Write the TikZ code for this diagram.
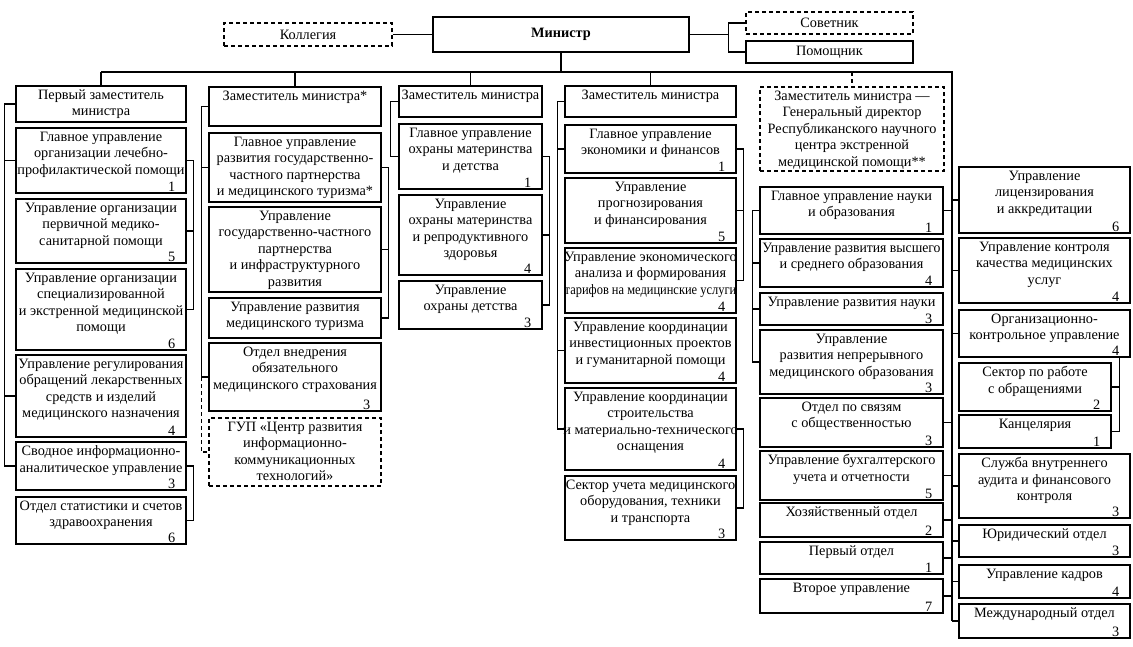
\documentclass[tikz,border=0pt]{standalone}
\usepackage{fontspec}
\setmainfont{Liberation Serif}
\usetikzlibrary{fit}
\tikzset{
  ubox/.style={draw=black, line width=1.1pt, inner sep=0pt, rectangle},
  dbox/.style={ubox, dash pattern=on 4pt off 3pt},
  utext/.style={anchor=north, align=center, inner sep=1pt, yshift=-3pt, font=\fontsize{14.3}{16.5}\selectfont},
  ctext/.style={anchor=center, align=center, inner sep=1pt, font=\fontsize{14.3}{16.5}\selectfont},
  unum/.style={anchor=south east, inner sep=0pt, xshift=-11pt, yshift=2pt, font=\fontsize{14.3}{16.5}\selectfont},
  conn/.style={line width=1.1pt},
  dconn/.style={conn, dash pattern=on 4pt off 3pt},
}
\newcommand\ubx[7][]{%
  \node[ubox,#1,fit={(#3,#4) (#5,#6)}] (#2) {};
  \node[utext] (#2-t) at (#2.north) {#7};}
\newcommand\unm[2]{\node[unum] (#1-n) at (#1.south east) {#2};}
\begin{document}
\begin{tikzpicture}[x=1pt,y=-1pt]
\useasboundingbox[fill=white] (0,0) rectangle (1133,646);
% top
\node[dbox,fit={(224,23) (392,46)}] (kol) {};
\node[ctext] (kol-t) at (kol.center) {Коллегия};
\node[ubox,line width=2pt,fit={(433,17) (689,52)}] (min) {};
\node[ctext] (min-t) at (min.center) {\textbf{Министр}};
\node[dbox,fit={(746,12) (913,34)}] (sov) {};
\node[ctext] (sov-t) at (sov.center) {Советник};
\node[ubox,fit={(746,41) (913,63)}] (pom) {};
\node[ctext] (pom-t) at (pom.center) {Помощник};
% column 1
\ubx{z1}{16}{86}{186}{122}{Первый заместитель\\министра}
\ubx{c1a}{16}{128}{186}{193}{Главное управление\\организации лечебно-\\профилактической помощи}\unm{c1a}{1}
\ubx{c1b}{16}{199}{186}{263}{Управление организации\\первичной медико-\\санитарной помощи}\unm{c1b}{5}
\ubx{c1c}{16}{269}{186}{350}{Управление организации\\специализированной\\и экстренной медицинской\\помощи}\unm{c1c}{6}
\ubx{c1d}{16}{355}{186}{437}{Управление регулирования\\обращений лекарственных\\средств и изделий\\медицинского назначения}\unm{c1d}{4}
\ubx{c1e}{16}{442}{186}{490}{Сводное информационно-\\аналитическое управление}\unm{c1e}{3}
\ubx{c1f}{16}{497}{186}{544}{Отдел статистики и счетов\\здравоохранения}\unm{c1f}{6}
% column 2
\ubx{z2}{209}{87}{381}{126}{Заместитель министра*}
\ubx{c2a}{209}{133}{381}{202}{Главное управление\\развития государственно-\\частного партнерства\\и медицинского туризма*}
\ubx{c2b}{209}{207}{381}{292}{Управление\\государственно-частного\\партнерства\\и инфраструктурного\\развития}
\ubx{c2c}{209}{298}{381}{338}{Управление развития\\медицинского туризма}
\ubx{c2d}{209}{343}{381}{411}{Отдел внедрения\\обязательного\\медицинского страхования}\unm{c2d}{3}
\ubx[dbox]{c2e}{209}{418}{381}{486}{ГУП «Центр развития\\информационно-\\коммуникационных\\технологий»}
% column 3
\ubx{z3}{399}{86}{542}{117}{Заместитель министра}
\ubx{c3a}{399}{124}{542}{189}{Главное управление\\охраны материнства\\и детства}\unm{c3a}{1}
\ubx{c3b}{399}{195}{542}{275}{Управление\\охраны материнства\\и репродуктивного\\здоровья}\unm{c3b}{4}
\ubx{c3c}{399}{281}{542}{329}{Управление\\охраны детства}\unm{c3c}{3}
% column 4
\ubx{z4}{565}{86}{736}{117}{Заместитель министра}
\ubx{c4a}{565}{125}{736}{173}{Главное управление\\экономики и финансов}\unm{c4a}{1}
\ubx{c4b}{565}{178}{736}{243}{Управление\\прогнозирования\\и финансирования}\unm{c4b}{5}
\ubx{c4c}{565}{248}{736}{313}{Управление экономического\\анализа и формирования\\\scalebox{0.87}[1]{тарифов на медицинские услуги}}\unm{c4c}{4}
\ubx{c4d}{565}{318}{736}{383}{Управление координации\\инвестиционных проектов\\и гуманитарной помощи}\unm{c4d}{4}
\ubx{c4e}{565}{388}{736}{470}{Управление координации\\строительства\\и материально-технического\\оснащения}\unm{c4e}{4}
\ubx{c4f}{565}{476}{736}{540}{Сектор учета медицинского\\оборудования, техники\\и транспорта}\unm{c4f}{3}
% right block
\ubx[dbox]{z5}{760}{87}{944}{171}{Заместитель министра —\\Генеральный директор\\Республиканского научного\\центра экстренной\\медицинской помощи**}
\ubx{s1}{760}{187}{943}{234}{Главное управление науки\\и образования}\unm{s1}{1}
\ubx{s2}{760}{239}{943}{287}{\scalebox{0.96}[1]{Управление развития высшего}\\и среднего образования}\unm{s2}{4}
\ubx{s3}{760}{293}{943}{325}{Управление развития науки}\unm{s3}{3}
\ubx{s4}{760}{330}{943}{394}{Управление\\развития непрерывного\\медицинского образования}\unm{s4}{3}
\ubx{s5}{760}{398}{943}{447}{Отдел по связям\\с общественностью}\unm{s5}{3}
\ubx{s6}{760}{451}{943}{500}{Управление бухгалтерского\\учета и отчетности}\unm{s6}{5}
\ubx{s7}{760}{503}{943}{537}{Хозяйственный отдел}\unm{s7}{2}
\ubx{s8}{760}{542}{943}{574}{Первый отдел}\unm{s8}{1}
\ubx{s9}{760}{579}{943}{613}{Второе управление}\unm{s9}{7}
\ubx{r1}{959}{167}{1130}{233}{Управление\\лицензирования\\и аккредитации}\unm{r1}{6}
\ubx{r2}{959}{238}{1130}{303}{Управление контроля\\качества медицинских\\услуг}\unm{r2}{4}
\ubx{r3}{959}{310}{1130}{357}{Организационно-\\контрольное управление}\unm{r3}{4}
\ubx{r4}{959}{363}{1111}{411}{Сектор по работе\\с обращениями}\unm{r4}{2}
\ubx{r5}{959}{415}{1111}{448}{Канцелярия}\unm{r5}{1}
\ubx{r6}{959}{454}{1130}{518}{Служба внутреннего\\аудита и финансового\\контроля}\unm{r6}{3}
\ubx{r7}{959}{525}{1130}{557}{Юридический отдел}\unm{r7}{3}
\ubx{r8}{959}{565}{1130}{598}{Управление кадров}\unm{r8}{4}
\ubx{r9}{959}{604}{1130}{638}{Международный отдел}\unm{r9}{3}
% connectors top
\draw[conn] (kol.east) -- (min.west);
\coordinate (sj) at ([xshift=-17pt]sov.west);
\draw[conn] (min.east) -- (min.east -| sj);
\draw[conn] (sov.west) -- (sj) |- (pom.west);
\coordinate (busL) at (z1.north |- 0,72);
\coordinate (busR) at (952,72);
\draw[conn] (min.south) -- (min.south |- busR);
\draw[conn] (busL) -- (busR) -- (busR |- r9.west);
\foreach \z in {z1,z2,z3,z4} \draw[conn] (\z.north |- busR) -- (\z.north);
\draw[dconn] (z5.north |- busR) -- (z5.north);
% column 1
\foreach \b in {c1a,c1d,c1e} \draw[conn] (z1.west) -- ++(-11,0) |- (\b.west);
\foreach \b in {c1b,c1c} \draw[conn] (c1a.east) -- ++(7,0) |- (\b.east);
\draw[conn] (c1e.east) -- ++(7,0) |- (c1f.east);
% column 2
\foreach \b in {c2a,c2d} \draw[conn] (z2.west) -- ++(-7,0) |- (\b.west);
\draw[dconn] ([xshift=-7pt]c2d.west) |- (c2e.west);
\foreach \b in {c2b,c2c} \draw[conn] (c2a.east) -- ++(7,0) |- (\b.east);
% column 3
\draw[conn] (z3.west) -- ++(-8,0) |- (c3a.west);
\foreach \b in {c3b,c3c} \draw[conn] (c3a.east) -- ++(7,0) |- (\b.east);
% column 4
\foreach \b in {c4a,c4d,c4e} \draw[conn] (z4.west) -- ++(-7,0) |- (\b.west);
\foreach \b in {c4b,c4c} \draw[conn] (c4a.east) -- ++(7,0) |- (\b.east);
\draw[conn] (c4e.east) -- ++(7,0) |- (c4f.east);
% right block
\foreach \b in {s2,s3,s4} \draw[conn] (s1.west) -- ++(-7,0) |- (\b.west);
\foreach \b in {s1,s5,s6,s7,s8,s9} \draw[conn] (\b.east) -- (\b.east -| busR);
\foreach \b in {r1,r2,r3,r6,r7,r8,r9} \draw[conn] (busR |- \b.west) -- (\b.west);
\coordinate (ob) at ([xshift=-11pt]r3.south east);
\foreach \b in {r4,r5} \draw[conn] (ob) |- (\b.east);
\end{tikzpicture}
\end{document}
